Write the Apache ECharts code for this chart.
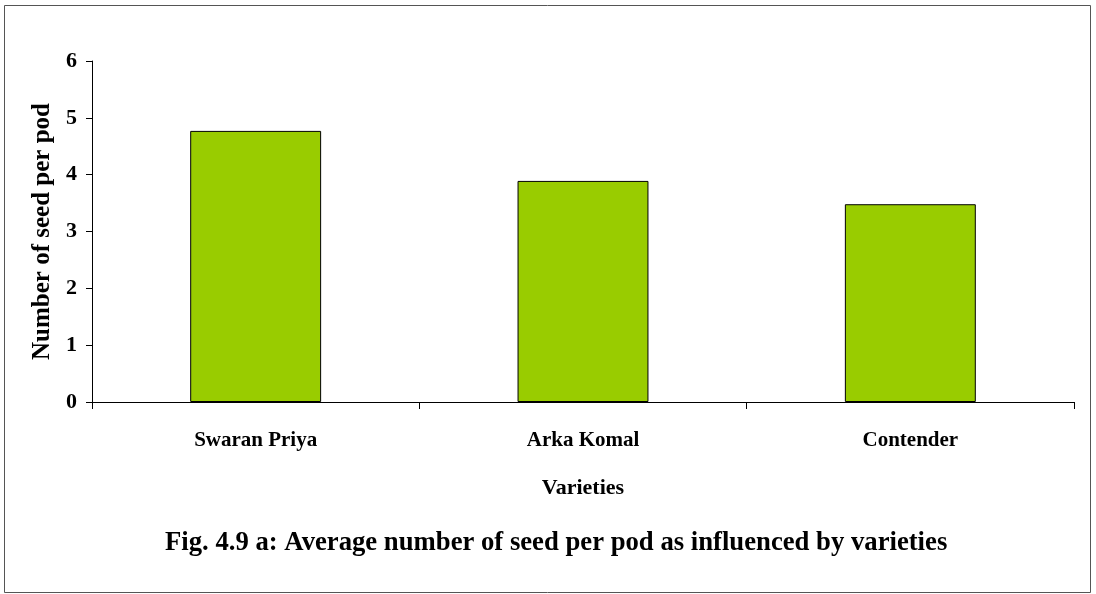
<!DOCTYPE html>
<html>
<head>
<meta charset="utf-8">
<script src="https://cdn.jsdelivr.net/npm/echarts@6/dist/echarts.min.js"></script>
<style>
  html, body { margin: 0; padding: 0; background: #fff; }
  #chart-container { width: 1096px; height: 594px; }
</style>
</head>
<body>
<div id="chart-container"></div>
<script>
const varieties = ["Swaran Priya", "Arka Komal", "Contender"];
const seedPerPod = [4.77, 3.89, 3.48];
const yTicks = [0, 1, 2, 3, 4, 5, 6];

const font = "'Liberation Serif', 'Times New Roman', serif";

const chart = echarts.init(document.getElementById("chart-container"));

const option = {
  backgroundColor: "#fff",
  animation: false,
  grid: { left: 92, right: 22, top: 61, bottom: 192 },
  graphic: [
    {
      type: "rect",
      shape: { x: 4.5, y: 5.5, width: 1086, height: 587 },
      style: { fill: "none", stroke: "#555", lineWidth: 1 },
    },
    {
      type: "text",
      left: 165,
      top: 530,
      style: {
        text: "Fig. 4.9 a: Average number of seed per pod as influenced by varieties",
        font: "bold 26.7px " + font,
        fill: "#000",
      },
    },
  ],
  xAxis: {
    type: "category",
    data: varieties,
    name: "Varieties",
    nameLocation: "middle",
    nameGap: 75,
    nameTextStyle: { fontFamily: font, fontWeight: "bold", fontSize: 22, color: "#000", verticalAlign: "top" },
    axisLine: { lineStyle: { color: "#000", width: 1 } },
    axisTick: { show: true, length: 7, alignWithLabel: false, lineStyle: { color: "#000" } },
    axisLabel: { margin: 28, fontFamily: font, fontWeight: "bold", fontSize: 21, color: "#000", verticalAlign: "top" },
    splitLine: { show: false },
  },
  yAxis: {
    type: "value",
    min: 0,
    max: yTicks[yTicks.length - 1],
    interval: 1,
    name: "Number of seed per pod",
    nameLocation: "middle",
    nameGap: 37,
    nameTextStyle: { fontFamily: font, fontWeight: "bold", fontSize: 25, color: "#000" },
    axisLine: { show: true, lineStyle: { color: "#000", width: 1 } },
    axisTick: { show: true, length: 6, lineStyle: { color: "#000" } },
    axisLabel: { margin: 15, fontFamily: font, fontWeight: "bold", fontSize: 22, color: "#000" },
    splitLine: { show: false },
  },
  series: [
    {
      type: "bar",
      data: seedPerPod,
      barWidth: "40%",
      itemStyle: { color: "#99cc00", borderColor: "#000", borderWidth: 1 },
    },
  ],
};

chart.setOption(option);
</script>
</body>
</html>
